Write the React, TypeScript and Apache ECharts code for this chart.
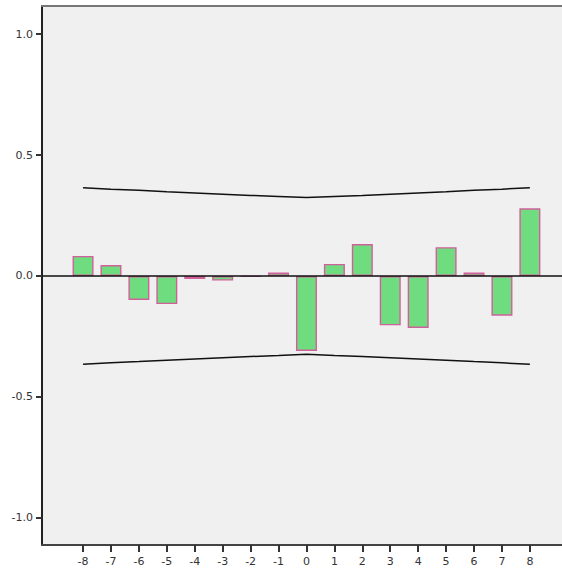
import React, { useEffect, useRef } from "react";
import * as echarts from "echarts";

// Cross-correlation coefficients by lag
const lags = [-8, -7, -6, -5, -4, -3, -2, -1, 0, 1, 2, 3, 4, 5, 6, 7, 8];
const ccf = [0.083, 0.045, -0.099, -0.116, -0.012, -0.019, -0.003, 0.014, -0.31, 0.05, 0.132, -0.204, -0.215, 0.119, 0.014, -0.164, 0.28];
// Upper confidence limit by lag (lower limit is its negative)
const upperLimit = [0.365, 0.359, 0.354, 0.348, 0.343, 0.338, 0.333, 0.329, 0.324, 0.329, 0.333, 0.338, 0.343, 0.348, 0.354, 0.359, 0.365];
const yTicks = [-1.0, -0.5, 0.0, 0.5, 1.0];

const X_MIN = -9.47;
const X_MAX = 9.15;
const Y_MIN = -1.112;
const Y_MAX = 1.116;

export default function App() {
  const ref = useRef<HTMLDivElement>(null);

  useEffect(() => {
    if (!ref.current) return;
    const chart = echarts.init(ref.current, null, { renderer: "svg" });
    const labelFont = { fontFamily: "DejaVu Sans", fontSize: 11, color: "#333" };
    chart.setOption({
      animation: false,
      backgroundColor: "#ffffff",
      grid: {
        left: 42,
        top: 6,
        right: 0,
        bottom: 26,
        show: true,
        backgroundColor: "#f0f0f0",
        borderWidth: 0,
      },
      xAxis: [
        {
          type: "value",
          min: X_MIN,
          max: X_MAX,
          position: "bottom",
          axisLine: { onZero: false, lineStyle: { color: "#444", width: 2 } },
          axisTick: { show: true, customValues: lags, length: 7, lineStyle: { color: "#333", width: 2 } },
          axisLabel: { customValues: lags, margin: 11, ...labelFont },
          splitLine: { show: false },
        },
        {
          type: "value",
          min: X_MIN,
          max: X_MAX,
          position: "top",
          axisLine: { show: true, onZero: false, lineStyle: { color: "#777", width: 2 } },
          axisTick: { show: false },
          axisLabel: { show: false },
          splitLine: { show: false },
        },
      ],
      yAxis: {
        type: "value",
        min: Y_MIN,
        max: Y_MAX,
        axisLine: { show: true, onZero: false, lineStyle: { color: "#222", width: 2 } },
        axisTick: { show: true, customValues: yTicks, length: 6, lineStyle: { color: "#333", width: 2 } },
        axisLabel: {
          customValues: yTicks,
          margin: 9,
          formatter: (v: number) => v.toFixed(1),
          ...labelFont,
        },
        splitLine: { show: false },
      },
      series: [
        {
          type: "bar",
          data: lags.map((l, i) => [l, ccf[i]]),
          barWidth: 21,
          itemStyle: {
            color: "#70dc80",
            borderColor: "#d0609a",
            borderWidth: 1.4,
          },
          markLine: {
            silent: true,
            symbol: "none",
            label: { show: false },
            lineStyle: { color: "#111", width: 1.5, type: "solid" },
            data: [{ yAxis: 0 }],
            z: 10,
          },
          z: 2,
        },
        {
          type: "line",
          data: lags.map((l, i) => [l, upperLimit[i]]),
          symbol: "none",
          lineStyle: { color: "#111", width: 1.5 },
          z: 3,
        },
        {
          type: "line",
          data: lags.map((l, i) => [l, -upperLimit[i]]),
          symbol: "none",
          lineStyle: { color: "#111", width: 1.5 },
          z: 3,
        },
      ],
    });
    return () => chart.dispose();
  }, []);

  return (
    <div
      ref={ref}
      style={{ position: "fixed", left: 0, top: 0, width: 562, height: 571 }}
    />
  );
}
